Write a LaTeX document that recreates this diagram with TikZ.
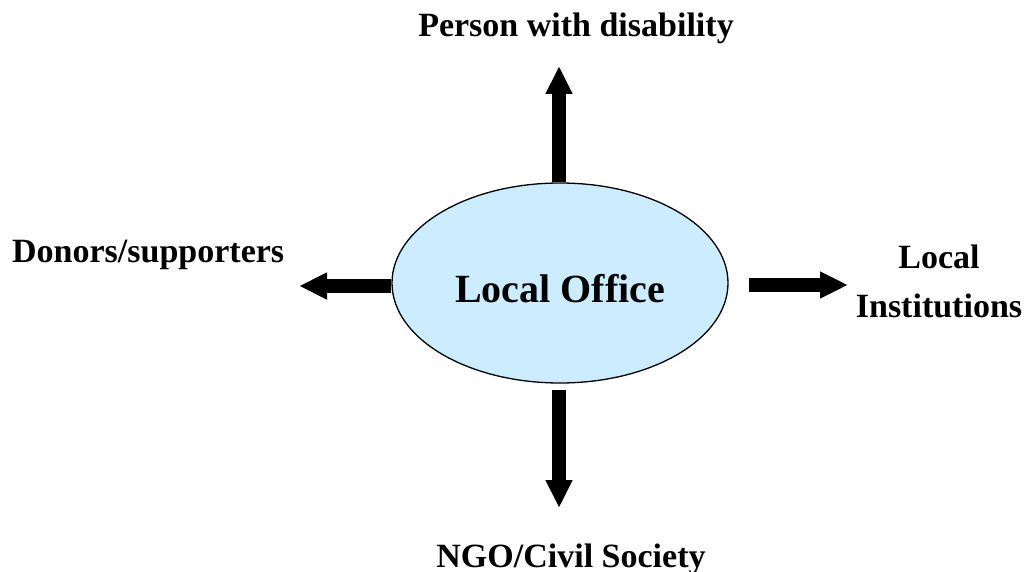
\documentclass[tikz,border=0pt]{standalone}
\usepackage{fontspec}
\setmainfont{Liberation Serif}
\usetikzlibrary{shapes.geometric,arrows.meta}
\definecolor{officeblue}{HTML}{CCECFF}
\tikzset{
  lbl/.style={inner sep=0pt, font=\fontsize{34}{50}\selectfont\bfseries},
  office/.style={ellipse, draw=black, line width=1.3pt, fill=officeblue,
    minimum width=336pt, minimum height=200pt, inner sep=0pt,
    font=\fontsize{40}{48}\selectfont\bfseries},
  fat/.style={line width=14pt, -{Triangle[width=25pt,length=28pt]}}
}
\begin{document}
\begin{tikzpicture}[x=1pt,y=1pt]
\useasboundingbox (0,0) rectangle (1028,571);
\node[office] (off) at (560,288) {};
\node[lbl, anchor=base] (offtxt) at (560,269) {\fontsize{40}{48}\selectfont Local Office};
\node[lbl, anchor=base] (pwd) at (576,534) {Person with disability};
\node[lbl, anchor=base west] (don) at (12,308) {Donors/supporters};
\node[lbl, anchor=base, align=center] (inst) at (939,253) {Local\\Institutions};
\node[lbl, anchor=base] (ngo) at (571,4) {NGO/Civil Society};
\coordinate (upend) at (559,505);
\coordinate (leftend) at (299,285);
\coordinate (rightstart) at (749,286);
\coordinate (rightend) at (848,286);
\coordinate (downstart) at (559,181);
\coordinate (downend) at (559,63);
\draw[fat] (off.north -| upend) -- (upend);
\draw[fat] (off.west |- leftend) -- (leftend);
\draw[fat] (rightstart) -- (rightend);
\draw[fat] (downstart) -- (downend);
\end{tikzpicture}
\end{document}
